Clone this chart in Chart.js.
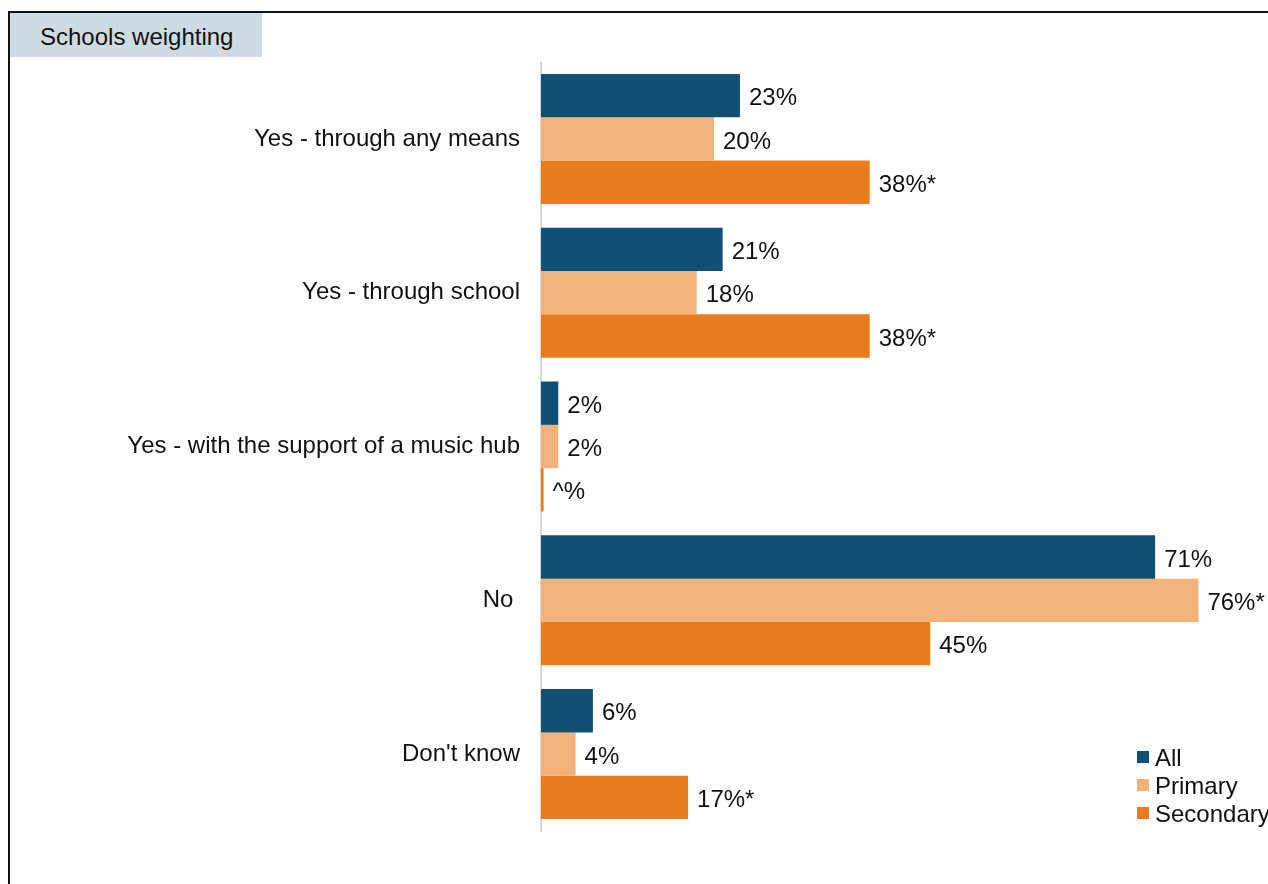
<!DOCTYPE html>
<html>
<head>
<meta charset="utf-8">
<title>Schools weighting</title>
<script src="https://cdn.jsdelivr.net/npm/chart.js@4/dist/chart.umd.min.js"></script>
<style>
  html, body { margin: 0; padding: 0; background: #fff; overflow: hidden; }
  body { width: 1268px; height: 884px; position: relative; font-family: "Liberation Sans", Arial, sans-serif; }
  #frame {
    position: absolute; left: 8px; top: 11px; width: 1400px; height: 900px;
    border-top: 2px solid #111; border-left: 2px solid #111;
  }
  #tag {
    position: absolute; left: 10px; top: 13px; width: 252px; height: 44px;
    background: #cfdbe3; color: #111; font-size: 24px; line-height: 47px;
    padding-left: 30px; box-sizing: border-box; white-space: nowrap;
  }
  #chartWrap { position: absolute; left: 0; top: 0; }
</style>
</head>
<body>
<div id="frame"></div>
<div id="tag">Schools weighting</div>
<div id="chartWrap"><canvas id="weightChart" width="1420" height="884"></canvas></div>

<script>
/* ---------- data ---------- */
const categories = [
  'Yes - through any means',
  'Yes - through school',
  'Yes - with the support of a music hub',
  'No ',
  "Don't know"
];
const seriesNames = ['All', 'Primary', 'Secondary'];
const allValues       = [23, 21, 2, 71, 6];
const primaryValues   = [20, 18, 2, 76, 4];
const secondaryValues = [38, 38, 0.3, 45, 17];
// significance flags (asterisk after the value)
const allStars       = [false, false, false, false, false];
const primaryStars   = [false, false, false, true, false];
const secondaryStars = [true, true, false, false, true];

const colours = ['#114f74', '#f2b27a', '#e87d1e'];
const fontFamily = '"Liberation Sans", Arial, sans-serif';

function valueLabel(v, star) {
  if (v < 0.5) return '^%';   // below half a percent
  return Math.round(v) + '%' + (star ? '*' : '');
}

/* ---------- plugins ---------- */
const barValueLabels = {
  id: 'barValueLabels',
  afterDatasetsDraw(chart) {
    const ctx = chart.ctx;
    ctx.save();
    ctx.font = '24px ' + fontFamily;
    ctx.fillStyle = '#111';
    ctx.textAlign = 'left';
    ctx.textBaseline = 'middle';
    chart.data.datasets.forEach((ds, i) => {
      const meta = chart.getDatasetMeta(i);
      meta.data.forEach((bar, j) => {
        ctx.fillText(valueLabel(ds.data[j], ds.stars[j]), bar.x + 9, bar.y + 3);
      });
    });
    ctx.restore();
  }
};

const cornerLegend = {
  id: 'cornerLegend',
  afterDraw(chart) {
    const ctx = chart.ctx;
    const x = 1137, y0 = 757, step = 28, box = 12;
    ctx.save();
    ctx.font = '24px ' + fontFamily;
    ctx.textAlign = 'left';
    ctx.textBaseline = 'middle';
    chart.data.datasets.forEach((ds, i) => {
      const y = y0 + i * step;
      ctx.fillStyle = ds.backgroundColor;
      ctx.fillRect(x, y - box / 2, box, box);
      ctx.fillStyle = '#111';
      ctx.fillText(ds.label, x + 18, y + 2);
    });
    ctx.restore();
  }
};

/* ---------- chart ---------- */
const ctx = document.getElementById('weightChart').getContext('2d');
new Chart(ctx, {
  type: 'bar',
  data: {
    labels: categories,
    datasets: [
      { label: seriesNames[0], data: allValues,       stars: allStars,       backgroundColor: colours[0] },
      { label: seriesNames[1], data: primaryValues,   stars: primaryStars,   backgroundColor: colours[1] },
      { label: seriesNames[2], data: secondaryValues, stars: secondaryStars, backgroundColor: colours[2] }
    ]
  },
  options: {
    indexAxis: 'y',
    responsive: false,
    animation: false,
    devicePixelRatio: 1,
    layout: { padding: { top: 62, bottom: 53, left: 0, right: 14 } },
    datasets: { bar: { categoryPercentage: 0.845, barPercentage: 1, borderWidth: 0 } },
    plugins: { legend: { display: false }, tooltip: { enabled: false } },
    scales: {
      x: { min: 0, max: 100, display: false },
      y: {
        grid: { display: false, drawTicks: false },
        border: { display: true, color: '#d9d9d9', width: 2 },
        ticks: { color: '#111', padding: 21, font: { family: fontFamily, size: 24 } },
        afterFit(scale) { scale.width = 541; }
      }
    }
  },
  plugins: [barValueLabels, cornerLegend]
});
</script>
</body>
</html>
